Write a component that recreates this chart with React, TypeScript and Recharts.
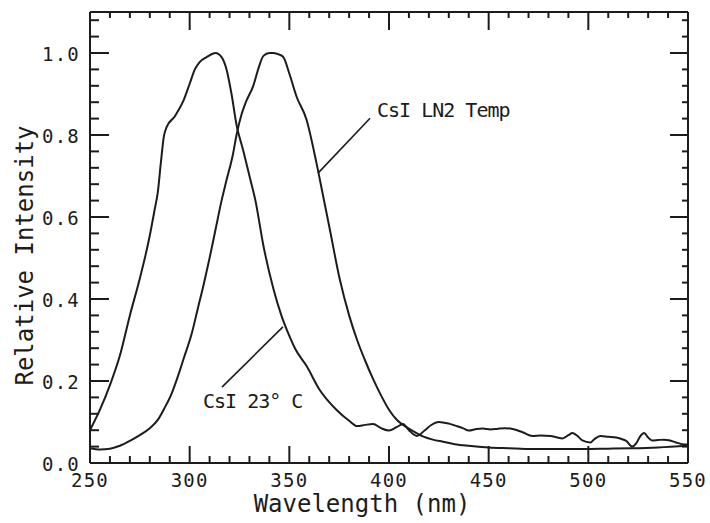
import React from 'react';
import { LineChart, Line, XAxis, YAxis, ReferenceLine, ReferenceDot } from 'recharts';

// CsI at 23 °C
const WAVE_23C = [250, 255, 260, 265, 270, 275, 278, 280, 282.4, 284, 285.5, 287, 288.5, 292.5, 297, 300, 302.6, 305, 308.5, 313, 316, 318.5, 321, 323.5, 327, 330, 333, 337, 342, 346, 350, 353, 358.6, 365, 373.6, 380, 384, 388, 392, 396, 400, 404, 407, 410, 414, 418, 421, 425, 430, 434, 437, 440, 444, 447, 451, 454, 458, 462, 467, 472, 476, 481, 484, 487, 490, 492, 495, 497, 501, 503, 506, 510, 514, 517, 519, 522, 524, 526, 528, 530, 532, 535, 538, 541, 544, 547, 550];
const INT_23C = [0.08, 0.13, 0.19, 0.262, 0.36, 0.45, 0.51, 0.555, 0.617, 0.66, 0.73, 0.795, 0.82, 0.845, 0.885, 0.925, 0.96, 0.978, 0.99, 1.0, 0.99, 0.96, 0.9, 0.825, 0.76, 0.7, 0.64, 0.53, 0.425, 0.36, 0.31, 0.278, 0.237, 0.18, 0.13, 0.103, 0.09, 0.093, 0.095, 0.085, 0.079, 0.088, 0.095, 0.08, 0.066, 0.08, 0.092, 0.1, 0.096, 0.09, 0.085, 0.079, 0.083, 0.084, 0.082, 0.083, 0.085, 0.083, 0.075, 0.066, 0.067, 0.066, 0.063, 0.06, 0.068, 0.073, 0.064, 0.055, 0.05, 0.058, 0.066, 0.064, 0.062, 0.058, 0.054, 0.04, 0.048, 0.065, 0.073, 0.062, 0.055, 0.056, 0.057, 0.055, 0.05, 0.046, 0.045];

// CsI at LN2 temperature
const WAVE_LN2 = [250, 255, 260, 265, 270, 275, 280, 284, 287.5, 291, 294, 297, 301, 304, 307, 310, 313, 316, 318.5, 321.8, 323.5, 326, 328, 331.9, 335, 337, 340, 342, 345, 347, 350, 353.6, 358.6, 363.6, 367, 370.3, 375.3, 380, 384, 388, 392, 396, 400, 404, 408, 412, 417, 422, 427, 433, 440, 450, 460, 472, 485, 497, 510, 522, 535, 550];
const INT_LN2 = [0.036, 0.033, 0.035, 0.042, 0.054, 0.068, 0.085, 0.105, 0.135, 0.17, 0.21, 0.255, 0.315, 0.375, 0.435, 0.5, 0.57, 0.64, 0.69, 0.755, 0.8, 0.85, 0.878, 0.92, 0.97, 0.993, 1.0, 1.0, 0.996, 0.99, 0.95, 0.894, 0.838, 0.732, 0.65, 0.57, 0.448, 0.36, 0.3, 0.25, 0.205, 0.165, 0.13, 0.105, 0.09, 0.078, 0.065, 0.057, 0.052, 0.046, 0.042, 0.038, 0.036, 0.034, 0.034, 0.034, 0.035, 0.036, 0.038, 0.042];

const X_TICKS = [250, 260, 270, 280, 290, 300, 310, 320, 330, 340, 350, 360, 370, 380, 390, 400, 410, 420, 430, 440, 450, 460, 470, 480, 490, 500, 510, 520, 530, 540, 550];
const X_MAJOR = [250, 300, 350, 400, 450, 500, 550];
const Y_TICKS = [0, 0.04, 0.08, 0.12, 0.16, 0.2, 0.24, 0.28, 0.32, 0.36, 0.4, 0.44, 0.48, 0.52, 0.56, 0.6, 0.64, 0.68, 0.72, 0.76, 0.8, 0.84, 0.88, 0.92, 0.96, 1.0, 1.04, 1.08];
const Y_MAJOR = [0, 0.2, 0.4, 0.6, 0.8, 1.0];

const X_TITLE = 'Wavelength (nm)';
const Y_TITLE = 'Relative Intensity';
const LABEL_LN2 = 'CsI LN2 Temp';
const LABEL_23C = 'CsI 23° C';
// label anchors and leader segments (data coordinates)
const LN2_TEXT_AT = { x: 394, y: 0.844 };
const LN2_LEADER = [{ x: 364.4, y: 0.707 }, { x: 390.5, y: 0.841 }];
const C23_TEXT_AT = { x: 306.7, y: 0.134 };
const C23_LEADER = [{ x: 316.2, y: 0.185 }, { x: 346.8, y: 0.332 }];

const DATA_23C = WAVE_23C.map((x, i) => ({ x, y: INT_23C[i] }));
const DATA_LN2 = WAVE_LN2.map((x, i) => ({ x, y: INT_LN2[i] }));

const INK = '#1c1c1c';
const MONO = '"DejaVu Sans Mono", "Liberation Mono", monospace';

const isMajorY = (v: number) => Y_MAJOR.some((m) => Math.abs(m - v) < 1e-6);
const isMajorX = (v: number) => X_MAJOR.some((m) => Math.abs(m - v) < 1e-6);

function BottomTick(p: any) {
  const { x, y, payload } = p;
  const v = payload.value;
  const major = isMajorX(v);
  return (
    <g>
      <line x1={x} x2={x} y1={y} y2={y - (major ? 17 : 7)} stroke={INK} strokeWidth={2} />
      {major && (
        <text x={x} y={y + 24} textAnchor="middle" fontFamily={MONO} fontSize={19} letterSpacing={1.2} fill={INK}>
          {v}
        </text>
      )}
    </g>
  );
}

function TopTick(p: any) {
  const { x, y, payload } = p;
  const major = isMajorX(payload.value);
  return <line x1={x} x2={x} y1={y} y2={y + (major ? 18 : 6)} stroke={INK} strokeWidth={2} />;
}

function LeftTick(p: any) {
  const { x, y, payload } = p;
  const v = payload.value;
  const major = isMajorY(v);
  return (
    <g>
      <line x1={x} x2={x + (major ? 19 : 9)} y1={y} y2={y} stroke={INK} strokeWidth={2} />
      {major && (
        <text x={x - 10} y={y + 8} textAnchor="end" fontFamily={MONO} fontSize={19} letterSpacing={1.2} fill={INK}>
          {v.toFixed(1)}
        </text>
      )}
    </g>
  );
}

function RightTick(p: any) {
  const { x, y, payload } = p;
  const major = isMajorY(payload.value);
  return <line x1={x} x2={x - (major ? 18 : 6)} y1={y} y2={y} stroke={INK} strokeWidth={2} />;
}

function AnnotText(text: string) {
  return (p: any) => (
    <text x={p.cx} y={p.cy} fontFamily={MONO} fontSize={20} letterSpacing={-1} fill={INK}>
      {text}
    </text>
  );
}

export default function App() {
  const axisLine = { stroke: INK, strokeWidth: 2 };
  return (
    <div style={{ position: 'absolute', left: 0, top: 0, width: 710, height: 523, background: '#fff' }}>
      <LineChart width={710} height={523} margin={{ top: 0, right: 0, bottom: 0, left: 0 }}>
        <XAxis
          xAxisId="b"
          type="number"
          dataKey="x"
          domain={[250, 550]}
          allowDataOverflow
          ticks={X_TICKS}
          interval={0}
          tickSize={0}
          tickMargin={0}
          tickLine={false}
          axisLine={axisLine}
          height={60}
          tick={(p: any) => <BottomTick {...p} />}
          label={{
            content: (lp: any) => {
              const vb = lp.viewBox || { x: 90, y: 463, width: 598, height: 60 };
              return (
                <text x={vb.x + vb.width / 2 - 27} y={vb.y + 49} textAnchor="middle" fontFamily={MONO} fontSize={24} fill={INK}>
                  {X_TITLE}
                </text>
              );
            },
          }}
        />
        <XAxis
          xAxisId="t"
          orientation="top"
          type="number"
          dataKey="x"
          domain={[250, 550]}
          allowDataOverflow
          ticks={X_TICKS}
          interval={0}
          tickSize={0}
          tickMargin={0}
          tickLine={false}
          axisLine={axisLine}
          height={12}
          tick={(p: any) => <TopTick {...p} />}
        />
        <YAxis
          yAxisId="l"
          type="number"
          domain={[0, 1.1]}
          allowDataOverflow
          ticks={Y_TICKS}
          interval={0}
          tickSize={0}
          tickMargin={0}
          tickLine={false}
          axisLine={axisLine}
          width={90}
          tick={(p: any) => <LeftTick {...p} />}
          label={{
            content: (lp: any) => {
              const vb = lp.viewBox || { x: 0, y: 12, width: 90, height: 451 };
              const cx = vb.x + 33;
              const cy = vb.y + vb.height / 2 + 18;
              return (
                <text x={cx} y={cy} textAnchor="middle" transform={`rotate(-90, ${cx}, ${cy})`} fontFamily={MONO} fontSize={24} fill={INK}>
                  {Y_TITLE}
                </text>
              );
            },
          }}
        />
        <YAxis
          yAxisId="r"
          orientation="right"
          type="number"
          domain={[0, 1.1]}
          allowDataOverflow
          ticks={Y_TICKS}
          interval={0}
          tickSize={0}
          tickMargin={0}
          tickLine={false}
          axisLine={axisLine}
          width={22}
          tick={(p: any) => <RightTick {...p} />}
        />
        <Line
          xAxisId="b"
          yAxisId="l"
          data={DATA_23C}
          dataKey="y"
          type="monotone"
          stroke={INK}
          strokeWidth={2}
          dot={false}
          isAnimationActive={false}
        />
        <Line
          xAxisId="b"
          yAxisId="l"
          data={DATA_LN2}
          dataKey="y"
          type="monotone"
          stroke={INK}
          strokeWidth={2}
          dot={false}
          isAnimationActive={false}
        />
        <ReferenceLine xAxisId="b" yAxisId="l" segment={LN2_LEADER} stroke={INK} strokeWidth={1.6} />
        <ReferenceLine xAxisId="b" yAxisId="l" segment={C23_LEADER} stroke={INK} strokeWidth={1.6} />
        <ReferenceDot xAxisId="b" yAxisId="l" x={LN2_TEXT_AT.x} y={LN2_TEXT_AT.y} r={0} shape={AnnotText(LABEL_LN2)} />
        <ReferenceDot xAxisId="b" yAxisId="l" x={C23_TEXT_AT.x} y={C23_TEXT_AT.y} r={0} shape={AnnotText(LABEL_23C)} />
      </LineChart>
    </div>
  );
}
